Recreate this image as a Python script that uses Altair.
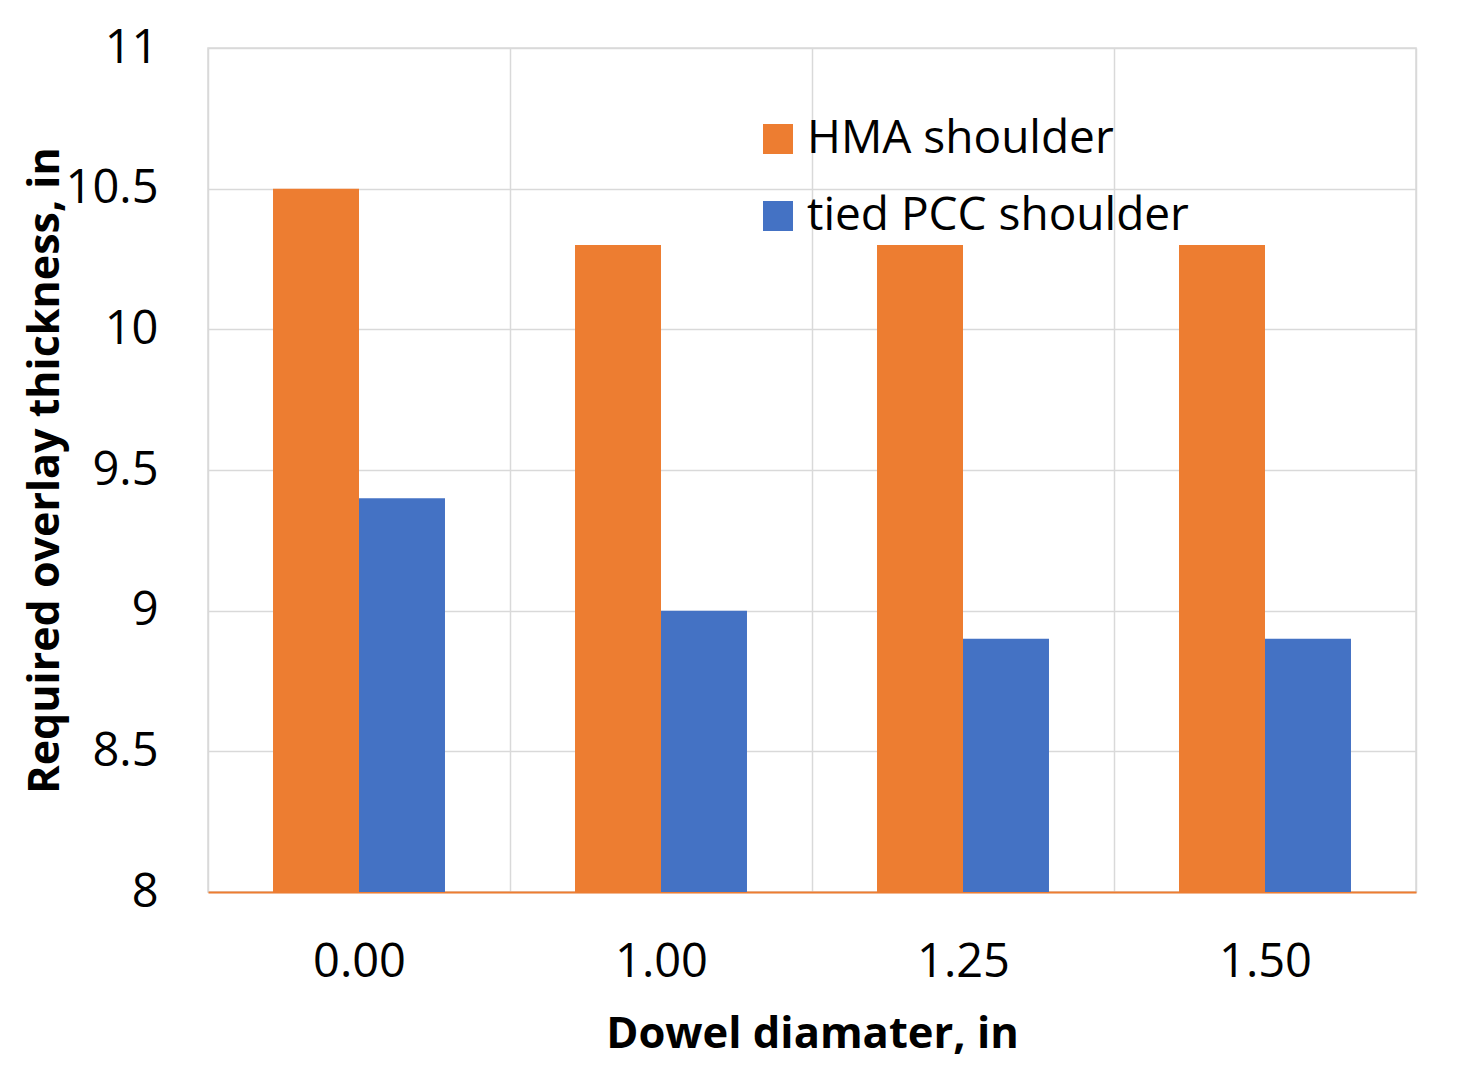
import altair as alt
import pandas as pd

categories = ["0.00", "1.00", "1.25", "1.50"]
series = ["HMA shoulder", "tied PCC shoulder"]
hma_values = [10.5, 10.3, 10.3, 10.3]
pcc_values = [9.4, 9.0, 8.9, 8.9]
colors = ["#ED7D31", "#4472C4"]
y_ticks = [8, 8.5, 9, 9.5, 10, 10.5, 11]

rows = []
for c, h, p in zip(categories, hma_values, pcc_values):
    rows.append({"dia": c, "series": series[0], "val": h})
    rows.append({"dia": c, "series": series[1], "val": p})
df = pd.DataFrame(rows)

FONT = "Open Sans"
GRID = "#D9D9D9"

chart = alt.Chart(df).mark_bar(clip=True).encode(
    x=alt.X(
        "dia:N",
        sort=categories,
        scale=alt.Scale(paddingInner=0, paddingOuter=0),
        axis=alt.Axis(
            title="Dowel diamater, in",
            labelAngle=0,
            grid=True,
            tickBand="extent",
            ticks=False,
            domainColor="#ED7D31",
            domainWidth=2,
            gridColor=GRID,
            gridWidth=1.5,
            labelFont=FONT,
            labelFontSize=47,
            labelColor="#000000",
            labelPadding=47,
            titleFont=FONT,
            titleFontSize=43.5,
            titleFontWeight="bold",
            titleColor="#000000",
            titlePadding=28,
        ),
    ),
    xOffset=alt.XOffset(
        "series:N",
        sort=series,
        scale=alt.Scale(paddingInner=0, paddingOuter=0.756),
    ),
    y=alt.Y(
        "val:Q",
        scale=alt.Scale(domain=[8, 11], nice=False, zero=False),
        axis=alt.Axis(
            values=y_ticks,
            labelExpr="'' + datum.value",
            title="Required overlay thickness, in",
            domain=False,
            ticks=False,
            gridColor=GRID,
            gridWidth=1.5,
            labelFont=FONT,
            labelFontSize=47,
            labelColor="#000000",
            labelPadding=50,
            titleFont=FONT,
            titleFontSize=43,
            titleFontWeight="bold",
            titleColor="#000000",
            titleX=-163,
            titleY=422,
            titleAngle=270,
            titleAlign="center",
            titleBaseline="middle",
        ),
    ),
    color=alt.Color(
        "series:N",
        sort=series,
        scale=alt.Scale(domain=series, range=colors),
        legend=alt.Legend(
            title=None,
            orient="none",
            legendX=547,
            legendY=68,
            symbolType="square",
            symbolSize=900,
            symbolStrokeWidth=0,
            labelFont=FONT,
            labelFontSize=46,
            labelColor="#000000",
            labelOffset=6,
            labelLimit=0,
            rowPadding=31,
        ),
    ),
).properties(
    width=1208,
    height=844,
    autosize=alt.AutoSizeParams(type="none"),
    padding={"left": 200, "top": 40, "right": 60, "bottom": 180},
    background="#FFFFFF",
).configure_view(stroke=GRID, strokeWidth=1.5)

chart.save("out.html", embed_options={"renderer": "svg", "actions": False})
